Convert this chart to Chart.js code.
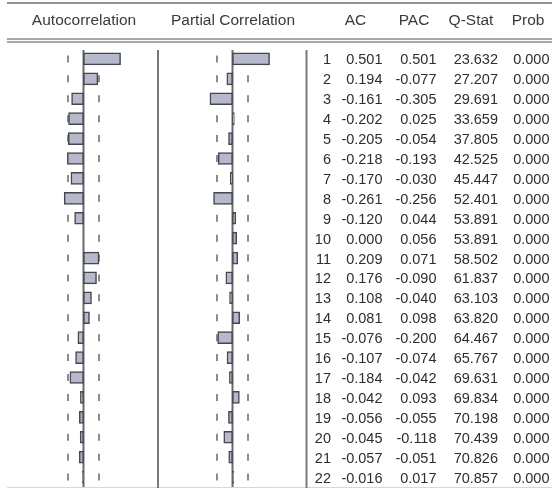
<!DOCTYPE html>
<html>
<head>
<meta charset="utf-8">
<script src="https://cdn.jsdelivr.net/npm/chart.js@4.4.0/dist/chart.umd.min.js"></script>
<style>
  body { margin: 0; background: #fff; }
  canvas { display: block; }
</style>
</head>
<body>
<canvas id="correlogram" width="552" height="489"></canvas>
<script>
const lags = ['1','2','3','4','5','6','7','8','9','10','11','12','13','14','15','16','17','18','19','20','21','22'];
const acValues = [0.501, 0.194, -0.161, -0.202, -0.205, -0.218, -0.170, -0.261, -0.120, 0.000, 0.209,
                  0.176, 0.108, 0.081, -0.076, -0.107, -0.184, -0.042, -0.056, -0.045, -0.057, -0.016];
const pacValues = [0.501, -0.077, -0.305, 0.025, -0.054, -0.193, -0.030, -0.256, 0.044, 0.056, 0.071,
                   -0.090, -0.040, 0.098, -0.200, -0.074, -0.042, 0.093, -0.055, -0.118, -0.051, 0.017];
const qStat = [23.632, 27.207, 29.691, 33.659, 37.805, 42.525, 45.447, 52.401, 53.891, 53.891, 58.502,
               61.837, 63.103, 63.820, 64.467, 65.767, 69.631, 69.834, 70.198, 70.439, 70.826, 70.857];
const probValues = [0.000, 0.000, 0.000, 0.000, 0.000, 0.000, 0.000, 0.000, 0.000, 0.000, 0.000,
                    0.000, 0.000, 0.000, 0.000, 0.000, 0.000, 0.000, 0.000, 0.000, 0.000, 0.000];
const bound = 0.21; // approx 2/sqrt(T)

const headerFont = '15.5px "Liberation Sans", Arial, sans-serif';
const cellFont = '14.5px "Liberation Sans", Arial, sans-serif';

// lines, dashed bounds and the text table
const tablePlugin = {
    id: 'tablePlugin',
    beforeDatasetsDraw(chart) {
        const ctx = chart.ctx;
        const y = chart.scales.y;
        const top = 50, bottom = 487;
        ctx.save();

        // frame lines
        ctx.strokeStyle = '#6e6e6e';
        ctx.lineWidth = 1.5;
        ctx.beginPath(); ctx.moveTo(7, 3); ctx.lineTo(552, 3); ctx.stroke();
        ctx.strokeStyle = '#8a8a8a';
        ctx.beginPath(); ctx.moveTo(7, 39); ctx.lineTo(552, 39); ctx.stroke();
        ctx.beginPath(); ctx.moveTo(7, 42); ctx.lineTo(552, 42); ctx.stroke();
        ctx.strokeStyle = '#d8d8d8';
        ctx.lineWidth = 1;
        ctx.beginPath(); ctx.moveTo(7, 487.5); ctx.lineTo(552, 487.5); ctx.stroke();

        // column separators
        ctx.strokeStyle = '#7a7a7a';
        ctx.lineWidth = 2;
        [158, 306.5].forEach(x => {
            ctx.beginPath(); ctx.moveTo(x, top); ctx.lineTo(x, bottom + 1); ctx.stroke();
        });

        // zero lines and +-bound dashes
        ['xA', 'xP'].forEach(id => {
            const sc = chart.scales[id];
            const x0 = sc.getPixelForValue(0);
            ctx.strokeStyle = '#6a6a6a';
            ctx.lineWidth = 2;
            ctx.beginPath(); ctx.moveTo(x0, top); ctx.lineTo(x0, bottom); ctx.stroke();
            ctx.strokeStyle = '#8c8c8c';
            ctx.lineWidth = 2;
            lags.forEach((l, i) => {
                const yc = y.getPixelForValue(i);
                [-bound, bound].forEach(b => {
                    const xb = Math.round(sc.getPixelForValue(b));
                    ctx.beginPath(); ctx.moveTo(xb, yc - 3.5); ctx.lineTo(xb, yc + 3.5); ctx.stroke();
                });
            });
        });
        ctx.restore();
    },
    afterDatasetsDraw(chart) {
        const ctx = chart.ctx;
        const y = chart.scales.y;
        ctx.save();
        ctx.fillStyle = '#3a3a3a';
        ctx.font = headerFont;
        ctx.textBaseline = 'middle';
        ctx.textAlign = 'center';
        ctx.fillText('Autocorrelation', 84, 21);
        ctx.fillText('Partial Correlation', 233, 21);
        ctx.fillText('AC', 355.5, 21);
        ctx.fillText('PAC', 414, 21);
        ctx.fillText('Q-Stat', 471, 21);
        ctx.fillText('Prob', 528, 21);

        ctx.font = cellFont;
        ctx.fillStyle = '#2e2e2e';
        ctx.textAlign = 'right';
        lags.forEach((l, i) => {
            const yc = y.getPixelForValue(i) + 1.5;
            ctx.fillText(l, 331, yc);
            ctx.fillText(acValues[i].toFixed(3), 382.5, yc);
            ctx.fillText(pacValues[i].toFixed(3), 436.5, yc);
            ctx.fillText(qStat[i].toFixed(3), 498, yc);
            ctx.fillText(probValues[i].toFixed(3), 549.5, yc);
        });
        ctx.restore();
    }
};

const pxPerUnit = 74;
const W = 552;
const zeroA = 83.5, zeroP = 232.5;

const ctx = document.getElementById('correlogram').getContext('2d');
new Chart(ctx, {
    type: 'bar',
    data: {
        labels: lags,
        datasets: [{
            label: 'AC',
            data: acValues,
            xAxisID: 'xA',
            backgroundColor: '#b6b9cc',
            borderColor: '#45464f',
            borderWidth: 1.5,
            borderSkipped: false,
            barThickness: 12,
            grouped: false
        }, {
            label: 'PAC',
            data: pacValues,
            xAxisID: 'xP',
            backgroundColor: '#b6b9cc',
            borderColor: '#45464f',
            borderWidth: 1.5,
            borderSkipped: false,
            barThickness: 12,
            grouped: false
        }]
    },
    options: {
        indexAxis: 'y',
        responsive: false,
        animation: false,
        devicePixelRatio: 1,
        layout: { padding: { top: 49, bottom: 2, left: 0, right: 0 } },
        plugins: {
            legend: { display: false },
            tooltip: { enabled: false }
        },
        scales: {
            y: { type: 'category', display: false, offset: true, grid: { display: false } },
            xA: {
                type: 'linear', display: false, position: 'bottom',
                min: -zeroA / pxPerUnit, max: (W - zeroA) / pxPerUnit
            },
            xP: {
                type: 'linear', display: false, position: 'bottom',
                min: -zeroP / pxPerUnit, max: (W - zeroP) / pxPerUnit
            }
        }
    },
    plugins: [tablePlugin]
});
</script>
</body>
</html>
